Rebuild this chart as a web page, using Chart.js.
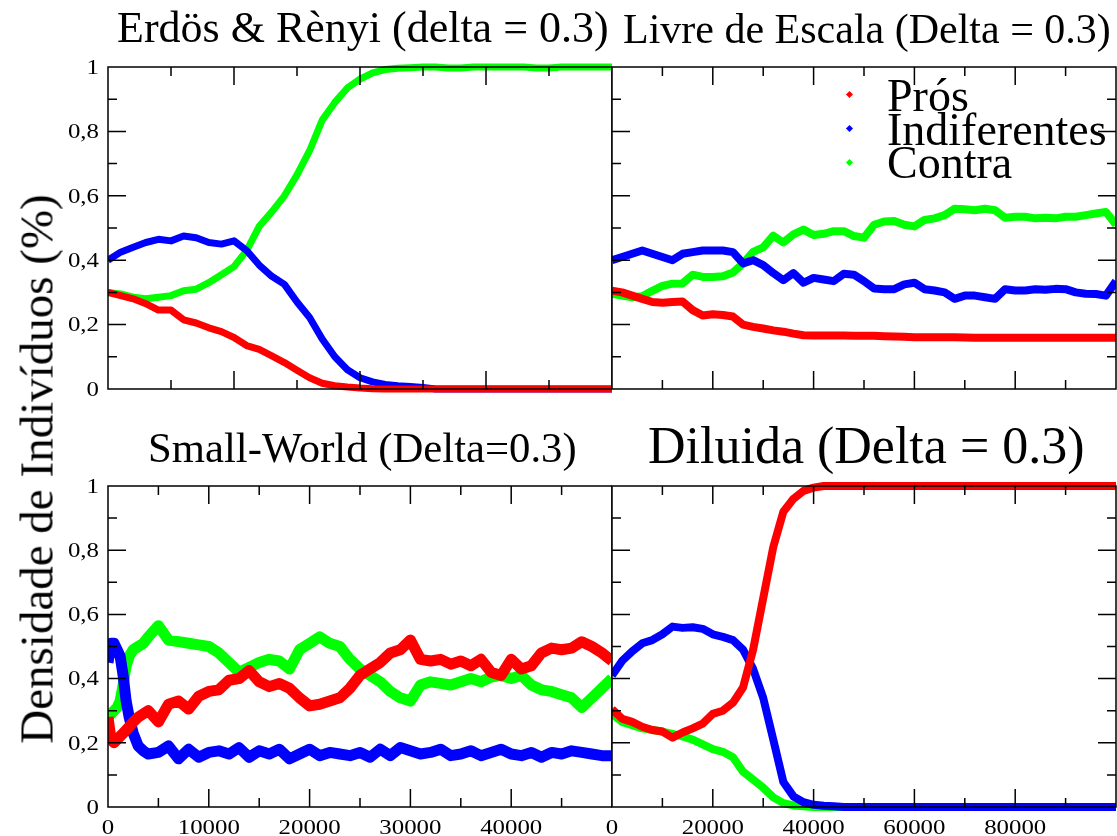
<!DOCTYPE html>
<html><head><meta charset="utf-8">
<script src="https://cdn.jsdelivr.net/npm/chart.js@4.4.0/dist/chart.umd.min.js"></script>
<style>
html,body{margin:0;padding:0;background:#fff;}
body{width:1117px;height:836px;position:relative;overflow:hidden;font-family:"Liberation Serif","Times New Roman",serif;}
canvas{position:absolute;}
.t{position:absolute;white-space:nowrap;line-height:1;color:#000;z-index:5;}
.mk{position:absolute;width:5px;height:5px;transform:rotate(45deg);z-index:5;}
</style></head><body>
<canvas id="cTL" width="612" height="420" style="left:0;top:0"></canvas>
<canvas id="cTR" width="517" height="420" style="left:600px;top:0"></canvas>
<canvas id="cBL" width="612" height="416" style="left:0;top:420px"></canvas>
<canvas id="cBR" width="517" height="416" style="left:600px;top:420px"></canvas>

<div class="t" style="left:117px;top:6px;font-size:44px">Erdös &amp; Rènyi (delta = 0.3)</div>
<div class="t" style="left:623px;top:8px;font-size:42px">Livre de Escala (Delta = 0.3)</div>
<div class="t" style="left:148px;top:427px;font-size:42px;transform:scaleX(1.017);transform-origin:0 0">Small-World (Delta=0.3)</div>
<div class="t" style="left:648px;top:420px;font-size:52px">Diluida (Delta = 0.3)</div>
<div class="t" style="left:37px;top:469px;font-size:47px;transform:translate(-50%,-50%) rotate(-90deg)">Densidade de Indivíduos (%)</div>

<div class="mk" style="left:847px;top:92px;background:#ff0000"></div>
<div class="mk" style="left:847px;top:126px;background:#0000ff"></div>
<div class="mk" style="left:847px;top:160px;background:#00ff00"></div>
<div class="t" style="left:887px;top:73px;font-size:46px">Prós</div>
<div class="t" style="left:887px;top:107px;font-size:46px">Indiferentes</div>
<div class="t" style="left:887px;top:140px;font-size:46px">Contra</div>

<script>
// ---------- data ----------
const seriesNames = ["Prós", "Indiferentes", "Contra"];
const seriesColors = ["#ff0000", "#0000ff", "#00ff00"];

const yTickValues = [0, 0.2, 0.4, 0.6, 0.8, 1];
const yTickLabels = ["0", "0,2", "0,4", "0,6", "0,8", "1"];
const xTickLabelsLeft = [0, 10000, 20000, 30000, 40000];
const xTickLabelsRight = [0, 20000, 40000, 60000, 80000];

// Erdös & Rènyi
const xTL = [0,1000,2000,3000,4000,5000,6000,7000,8000,9000,10000,11000,12000,13000,14000,15000,16000,17000,18000,19000,20000,21000,22000,23000,24000,25000,26000,27000,28000,29000,30000,31000,32000,33000,34000,35000,36000,37000,38000,39000,40000];
const prosTL = [0.30,0.29,0.28,0.265,0.245,0.245,0.215,0.205,0.19,0.178,0.16,0.135,0.123,0.103,0.082,0.058,0.035,0.018,0.01,0.006,0.003,0.001,0,0,0,0,0,0,0,0,0,0,0,0,0,0,0,0,0,0,0];
const indTL = [0.40,0.425,0.44,0.455,0.465,0.46,0.475,0.47,0.455,0.45,0.46,0.43,0.385,0.35,0.325,0.27,0.222,0.155,0.10,0.06,0.035,0.022,0.014,0.01,0.008,0.005,0,0,0,0,0,0,0,0,0,0,0,0,0,0,0];
const contraTL = [0.30,0.295,0.285,0.28,0.285,0.29,0.305,0.31,0.33,0.355,0.38,0.43,0.505,0.55,0.60,0.665,0.74,0.835,0.89,0.935,0.962,0.982,0.992,0.996,0.998,1,1,0.997,0.997,1,1,1,1,1,0.997,0.997,1,1,1,1,1];

// Livre de Escala and Diluida share this x grid
const xR = [0,2000,4000,6000,8000,10000,12000,14000,16000,18000,20000,22000,24000,26000,28000,30000,32000,34000,36000,38000,40000,42000,44000,46000,48000,50000,52000,54000,56000,58000,60000,62000,64000,66000,68000,70000,72000,74000,76000,78000,80000,82000,84000,86000,88000,90000,92000,94000,96000,98000,100000];
const prosTR = [0.305,0.30,0.29,0.28,0.27,0.268,0.27,0.272,0.245,0.228,0.232,0.23,0.225,0.20,0.193,0.188,0.182,0.178,0.172,0.167,0.166,0.166,0.166,0.166,0.165,0.165,0.165,0.164,0.163,0.162,0.161,0.161,0.161,0.161,0.161,0.160,0.159,0.159,0.159,0.159,0.159,0.159,0.159,0.159,0.159,0.159,0.159,0.159,0.159,0.159,0.159];
const indTR = [0.40,0.41,0.42,0.43,0.42,0.41,0.40,0.42,0.425,0.43,0.43,0.43,0.425,0.39,0.40,0.385,0.36,0.338,0.36,0.33,0.345,0.34,0.335,0.358,0.355,0.335,0.312,0.31,0.31,0.325,0.33,0.31,0.306,0.30,0.28,0.29,0.29,0.285,0.28,0.31,0.306,0.306,0.31,0.308,0.311,0.31,0.30,0.296,0.295,0.29,0.335];
const contraTR = [0.296,0.29,0.285,0.288,0.305,0.32,0.327,0.328,0.355,0.348,0.348,0.35,0.362,0.39,0.426,0.44,0.476,0.455,0.48,0.495,0.478,0.482,0.49,0.49,0.475,0.47,0.51,0.52,0.522,0.51,0.505,0.525,0.53,0.54,0.56,0.558,0.555,0.56,0.555,0.532,0.535,0.535,0.53,0.532,0.53,0.535,0.535,0.54,0.545,0.55,0.51];

// Small-World
const xBL = [0,300,600,900,1200,1500,1800,2100,2500,3000,3500,4000,5000,6000,7000,8000,9000,10000,11000,12000,13000,14000,15000,16000,17000,18000,19000,20000,21000,22000,23000,24000,25000,26000,27000,28000,29000,30000,31000,32000,33000,34000,35000,36000,37000,38000,39000,40000,41000,42000,43000,44000,45000,46000,47000,48000,49000,50000];
const prosBL = [0.28,0.21,0.20,0.21,0.22,0.23,0.24,0.25,0.265,0.28,0.29,0.30,0.265,0.32,0.33,0.305,0.345,0.36,0.365,0.395,0.40,0.425,0.39,0.375,0.385,0.37,0.34,0.315,0.32,0.33,0.34,0.37,0.41,0.43,0.45,0.48,0.49,0.52,0.46,0.455,0.46,0.445,0.455,0.44,0.46,0.42,0.41,0.46,0.43,0.44,0.48,0.495,0.49,0.495,0.515,0.50,0.48,0.455];
const indBL = [0.45,0.51,0.51,0.49,0.47,0.41,0.33,0.28,0.23,0.19,0.175,0.165,0.17,0.19,0.15,0.18,0.155,0.17,0.175,0.165,0.185,0.155,0.175,0.165,0.18,0.15,0.165,0.18,0.16,0.17,0.165,0.16,0.17,0.155,0.18,0.16,0.185,0.175,0.165,0.17,0.18,0.16,0.165,0.175,0.16,0.17,0.18,0.165,0.16,0.17,0.155,0.17,0.165,0.175,0.17,0.165,0.16,0.16];
const contraBL = [0.28,0.29,0.30,0.31,0.33,0.38,0.44,0.47,0.49,0.50,0.51,0.53,0.565,0.52,0.515,0.51,0.505,0.50,0.48,0.45,0.42,0.435,0.45,0.46,0.455,0.43,0.49,0.51,0.53,0.51,0.50,0.46,0.43,0.41,0.39,0.36,0.34,0.33,0.38,0.39,0.385,0.38,0.39,0.40,0.39,0.405,0.41,0.40,0.41,0.38,0.365,0.36,0.35,0.34,0.31,0.34,0.37,0.40];

// Diluida
const prosBR = [0.305,0.275,0.265,0.25,0.24,0.235,0.216,0.232,0.245,0.26,0.29,0.30,0.325,0.372,0.49,0.65,0.81,0.92,0.96,0.985,0.995,1,1,1,1,1,1,1,1,1,1,1,1,1,1,1,1,1,1,1,1,1,1,1,1,1,1,1,1,1,1];
const indBR = [0.41,0.455,0.485,0.51,0.52,0.538,0.562,0.558,0.56,0.555,0.538,0.53,0.52,0.49,0.43,0.34,0.21,0.078,0.033,0.015,0.007,0.004,0.002,0,0,0,0,0,0,0,0,0,0,0,0,0,0,0,0,0,0,0,0,0,0,0,0,0,0,0,0];
const contraBR = [0.29,0.265,0.255,0.245,0.24,0.235,0.228,0.22,0.21,0.195,0.18,0.172,0.155,0.11,0.085,0.06,0.03,0.012,0.005,0.002,0,0,0,0];

// ---------- drawing ----------
function pts(xs, ys){ return ys.map((v,i)=>({x:xs[i], y:v})); }

function stretchedText(ctx, txt, x, y, align){
  ctx.save();
  ctx.translate(x, y);
  ctx.scale(1.13, 1);
  ctx.textAlign = align;
  ctx.fillText(txt, 0, 0);
  ctx.restore();
}

const framePlugin = {
  id: 'frame',
  afterDatasetsDraw(chart, args, o){
    const ctx = chart.ctx, a = chart.chartArea, xs = chart.scales.x, ys = chart.scales.y;
    ctx.save();
    ctx.strokeStyle = '#000';
    ctx.lineWidth = 1.5;
    ctx.strokeRect(a.left, a.top, a.right - a.left, a.bottom - a.top);
    ctx.beginPath();
    const nx = Math.round((o.xMax - o.xMin) / o.xMinor);
    for (let i = 1; i < nx; i++){
      const px = xs.getPixelForValue(o.xMin + i * o.xMinor);
      const len = (i % o.xRatio === 0) ? 18 : 9;
      ctx.moveTo(px, a.top); ctx.lineTo(px, a.top + len);
      ctx.moveTo(px, a.bottom); ctx.lineTo(px, a.bottom - len);
    }
    for (let j = 1; j < 10; j++){
      const py = ys.getPixelForValue(j / 10);
      const len = (j % 2 === 0) ? 18 : 9;
      ctx.moveTo(a.left, py); ctx.lineTo(a.left + len, py);
      if (o.rightTicks){ ctx.moveTo(a.right, py); ctx.lineTo(a.right - len, py); }
    }
    ctx.stroke();
    ctx.fillStyle = '#000';
    ctx.font = '22px "Liberation Serif"';
    if (o.yLabels){
      ctx.textBaseline = 'middle';
      yTickValues.forEach((v,k)=>stretchedText(ctx, yTickLabels[k], a.left - 9, ys.getPixelForValue(v) + 1, 'right'));
    }
    if (o.xLabels){
      ctx.textBaseline = 'alphabetic';
      o.xLabels.forEach(v=>stretchedText(ctx, String(v), xs.getPixelForValue(v), a.bottom + 27, 'center'));
    }
    ctx.restore();
  }
};

function makePanel(id, sets, xMax, lw, padding, frameOpts){
  new Chart(document.getElementById(id), {
    type: 'line',
    data: {
      datasets: sets.map((s,k)=>({
        label: seriesNames[k],
        data: pts(s[0], s[1]),
        borderColor: seriesColors[k],
        backgroundColor: seriesColors[k],
        borderWidth: lw,
        pointRadius: 0,
        fill: false,
        tension: 0,
        borderJoinStyle: 'round',
        clip: {left: 0, right: 0, top: 6, bottom: 6}
      }))
    },
    options: {
      responsive: false,
      animation: false,
      events: [],
      layout: { padding: padding },
      plugins: { legend: {display:false}, tooltip: {enabled:false}, title:{display:false}, frame: Object.assign({xMin:0, xMax:xMax}, frameOpts) },
      scales: {
        x: { type:'linear', min:0, max:xMax, display:false },
        y: { type:'linear', min:0, max:1, display:false }
      }
    },
    plugins: [framePlugin]
  });
}

makePanel('cTL', [[xTL,prosTL],[xTL,indTL],[xTL,contraTL]], 40000, 7,
  {left:108, top:67, right:0, bottom:31},
  {xMinor:5000, xRatio:2, yLabels:true, xLabels:null, rightTicks:false});
makePanel('cTR', [[xR,prosTR],[xR,indTR],[xR,contraTR]], 100000, 8,
  {left:12, top:67, right:1, bottom:31},
  {xMinor:10000, xRatio:2, yLabels:false, xLabels:null, rightTicks:true});
makePanel('cBL', [[xBL,prosBL],[xBL,indBL],[xBL,contraBL]], 50000, 11,
  {left:108, top:66, right:0, bottom:29},
  {xMinor:5000, xRatio:2, yLabels:true, xLabels:xTickLabelsLeft, rightTicks:false});
makePanel('cBR', [[xR,prosBR],[xR,indBR],[xR,contraBR]], 100000, 8,
  {left:12, top:66, right:1, bottom:29},
  {xMinor:10000, xRatio:2, yLabels:false, xLabels:xTickLabelsRight, rightTicks:true});
</script>
</body></html>
